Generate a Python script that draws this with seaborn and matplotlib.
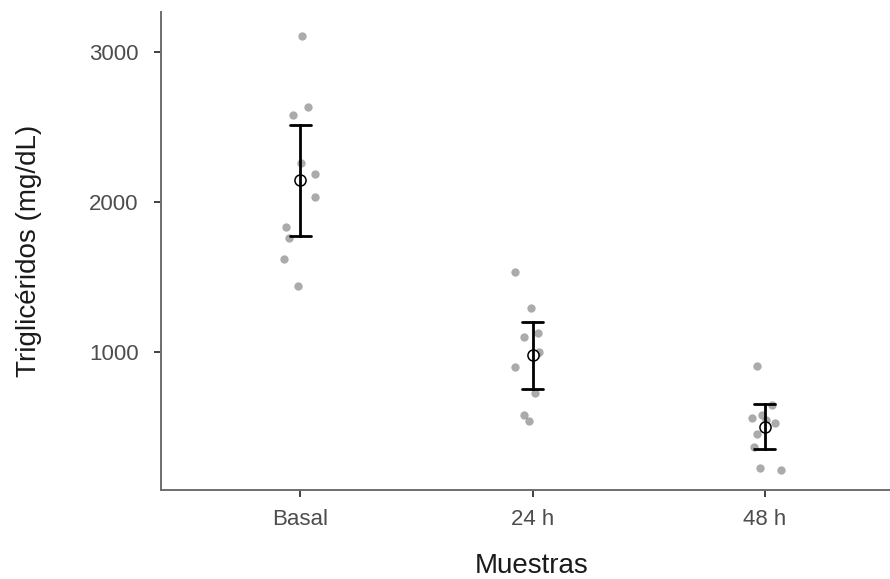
import numpy as np
import pandas as pd
import matplotlib
matplotlib.use("Agg")
import matplotlib.pyplot as plt
import seaborn as sns

# values (mg/dL), 10 samples per group
muestras = ["Basal", "24 h", "48 h"]
basal = [3109, 2631, 2580, 2262, 2187, 2036, 1831, 1758, 1618, 1440]
h24 = [1535, 1295, 1129, 1098, 1002, 980, 902, 724, 576, 536]
h48 = [909, 647, 580, 560, 547, 524, 451, 369, 224, 209]
y_ticks = [1000, 2000, 3000]

df = pd.DataFrame({
    "Muestras": np.repeat(muestras, [len(basal), len(h24), len(h48)]),
    "Trigliceridos": basal + h24 + h48,
})


def ci95(v):
    # t-based 95% CI of the mean (n = 10 -> t = 2.262)
    v = np.asarray(v, dtype=float)
    se = v.std(ddof=1) / np.sqrt(len(v))
    return v.mean() - 2.262 * se, v.mean() + 2.262 * se


sns.set_style("ticks")
plt.rcParams["font.family"] = ["Liberation Sans", "DejaVu Sans"]

fig = plt.figure(figsize=(8.9, 5.79), dpi=100)
ax = fig.add_axes([0.181, 0.154, 0.819, 0.825])

np.random.seed(3)
sns.stripplot(data=df, x="Muestras", y="Trigliceridos", order=muestras,
              color="#737373", alpha=0.6, size=6, jitter=0.08,
              linewidth=0, ax=ax, zorder=1)
sns.pointplot(data=df, x="Muestras", y="Trigliceridos", order=muestras,
              errorbar=ci95, capsize=0.09, color="black", linestyle="none",
              markers="o", markersize=8, markerfacecolor="white",
              markeredgecolor="black", markeredgewidth=1.1,
              err_kws={"linewidth": 2}, ax=ax, zorder=5)

ax.set_xlim(-0.6, 2.54)
ax.set_ylim(80, 3267)
ax.set_yticks(y_ticks)
ax.set_xlabel("Muestras", fontsize=20, color="#1a1a1a")
ax.set_ylabel("Triglicéridos (mg/dL)", fontsize=20, color="#1a1a1a")
ax.xaxis.set_label_coords(0.508, -0.132)
ax.yaxis.set_label_coords(-0.163, 0.5)
ax.tick_params(axis="both", labelsize=16, labelcolor="#4d4d4d",
               color="#333333", length=5, width=1.3)
ax.tick_params(axis="y", pad=11)
ax.tick_params(axis="x", pad=9)
sns.despine(ax=ax)
for s in ["left", "bottom"]:
    ax.spines[s].set_color("#6e6e6e")
    ax.spines[s].set_linewidth(1.4)

fig.savefig("out.png", dpi=100)
